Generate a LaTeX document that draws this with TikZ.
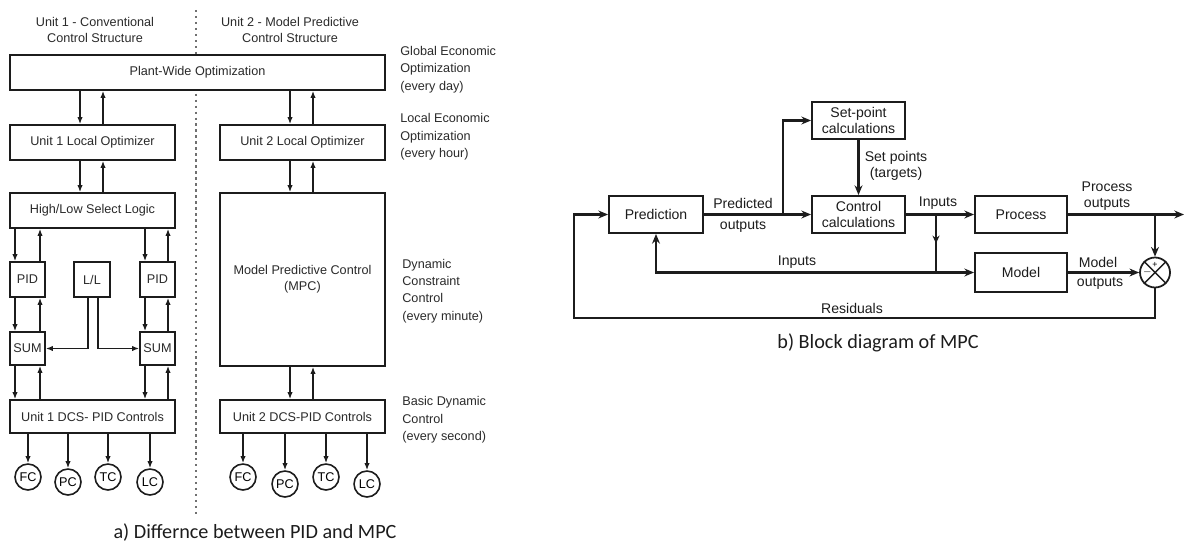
\documentclass[tikz,border=0pt]{standalone}
\usepackage{fontspec}
\setmainfont{Liberation Sans}
\newfontfamily\captionfont{Carlito}
\usetikzlibrary{arrows.meta,calc,positioning,decorations.markings}
\definecolor{InkDark}{HTML}{1C1C1C}
\definecolor{InkSoft}{HTML}{2A2A2A}
\definecolor{DotGrey}{HTML}{707070}
\tikzset{
  blk/.style={rectangle, draw=InkDark, line width=0.9pt, fill=white,
             inner sep=0pt, align=center, text=InkSoft,
             font=\fontsize{7.2}{9}\selectfont},
  blkb/.style={rectangle, draw=InkDark, line width=1.1pt, fill=white,
             inner sep=0pt, align=center, text=InkDark, minimum height=0.74cm,
             font=\fontsize{8}{9.6}\selectfont},
  ctl/.style={circle, draw=InkDark, line width=0.9pt, fill=white,
             minimum size=0.52cm, inner sep=0pt, font=\fontsize{7.2}{8}\selectfont},
  sumnode/.style={circle, draw=InkDark, line width=1pt, fill=white,
             minimum size=0.6cm, inner sep=0pt},
  sig/.style={line width=0.9pt, draw=InkDark, -{Latex[length=4pt,width=3pt]}},
  flow/.style={line width=1.3pt, draw=InkDark, -{Stealth[length=5.5pt,width=4.5pt]}},
  wire/.style={line width=1.3pt, draw=InkDark},
  midarr/.style={postaction={decorate}, decoration={markings,
             mark=at position 0.5 with {\arrow{Stealth[length=4.5pt,width=4pt]}}}},
  tier/.style={font=\fontsize{7.2}{9.9}\selectfont, align=left, anchor=west,
             text=InkSoft, inner sep=0pt},
  head/.style={font=\fontsize{7.2}{8.6}\selectfont, align=center,
             text=InkSoft, inner sep=0pt},
  sigtxt/.style={font=\fontsize{8}{9}\selectfont, align=center, inner sep=0pt,
             text=InkDark},
  capt/.style={font=\captionfont\fontsize{11.5}{13}\selectfont, text=InkDark,
             inner sep=0pt},
}

\begin{document}
\begin{tikzpicture}[x=0.02cm, y=-0.02cm]
\useasboundingbox (0,0) rectangle (1185,544);
\draw[DotGrey, line width=1.1pt, dash pattern=on 1.4pt off 2pt] (196,10) -- (196,515);
\node[head] (t1) at (95,30) {Unit 1 - Conventional\\Control Structure};
\node[head] (t2) at (290,30) {Unit 2 - Model Predictive\\Control Structure};
\node[blk, minimum width=7.5cm, minimum height=0.7cm] (plant) at (197.5,72.5) {Plant-Wide Optimization};
\node[blk, minimum width=3.3cm, minimum height=0.7cm] (lo1) at (92.5,142.5) {Unit 1 Local Optimizer};
\node[blk, minimum width=3.3cm, minimum height=0.7cm] (lo2) at (302.5,142.5) {Unit 2 Local Optimizer};
\node[blk, minimum width=3.3cm, minimum height=0.7cm] (hlsl) at (92.5,210.5) {High/Low Select Logic};
\node[blk, minimum width=3.3cm, minimum height=3.46cm] (mpc) at (302.5,279.5) {Model Predictive Control\\(MPC)};
\node[blk, minimum width=0.7cm, minimum height=0.7cm] (pid1) at (27.5,279.5) {PID};
\node[blk, minimum width=0.72cm, minimum height=0.7cm] (ll) at (92,279.5) {L/L};
\node[blk, minimum width=0.7cm, minimum height=0.7cm] (pid2) at (157.5,279.5) {PID};
\node[blk, minimum width=0.7cm, minimum height=0.66cm] (sum1) at (27.5,348.5) {SUM};
\node[blk, minimum width=0.7cm, minimum height=0.66cm] (sum2) at (157.5,348.5) {SUM};
\node[blk, minimum width=3.3cm, minimum height=0.66cm] (dcs1) at (92.5,416.5) {Unit 1 DCS- PID Controls};
\node[blk, minimum width=3.3cm, minimum height=0.66cm] (dcs2) at (302.5,416.5) {Unit 2 DCS-PID Controls};
\foreach \a/\b/\dn/\up in {plant/lo1/80/103, plant/lo2/290/313, lo1/hlsl/80/103,
    lo2/mpc/290/313, hlsl/pid1/15/40, hlsl/pid2/145/168, pid1/sum1/15/40,
    pid2/sum2/145/168, sum1/dcs1/15/40, sum2/dcs1/145/168, mpc/dcs2/290/313}{
  \draw[sig] (\a.south -| \dn,0) -- (\b.north -| \dn,0);
  \draw[sig] (\b.north -| \up,0) -- (\a.south -| \up,0);
}
\draw[sig] (ll.south -| 88,0) |- (sum1.east);
\draw[sig] (ll.south -| 98,0) |- (sum2.west);
\foreach \n/\t/\x/\y/\u in {fc1/FC/28/477/dcs1, pc1/PC/68/482/dcs1, tc1/TC/108/477/dcs1,
    lc1/LC/150/482/dcs1, fc2/FC/243/477/dcs2, pc2/PC/285/484/dcs2,
    tc2/TC/326/477/dcs2, lc2/LC/367/484/dcs2}{
  \node[ctl] (\n) at (\x,\y) {\t};
  \draw[sig] (\u.south -| \n) -- (\n.north);
}
\node[tier] (tg) at (400,69.5) {Global Economic\\Optimization\\(every day)};
\node[tier] (tl) at (400,137) {Local Economic\\Optimization\\(every hour)};
\node[tier] (td) at (402,291) {Dynamic\\Constraint\\Control\\(every minute)};
\node[tier] (tb) at (402,420) {Basic Dynamic\\Control\\(every second)};
\node[capt] (capa) at (255,533) {a) Differnce between PID and MPC};

\node[blkb, minimum width=1.88cm] (pred) at (656,214.5) {Prediction};
\node[blkb, minimum width=1.86cm] (setp) at (858.5,120.5) {Set-point\\calculations};
\node[blkb, minimum width=1.86cm] (ctrl) at (858.5,214.5) {Control\\calculations};
\node[blkb, minimum width=1.84cm] (proc) at (1021,214.5) {Process};
\node[blkb, minimum width=1.84cm, minimum height=0.78cm] (model) at (1021,272.5) {Model};
\node[sumnode] (sumj) at (1155,272.5) {};
\draw[line width=0.8pt, InkDark] (sumj.north east) -- (sumj.south west)
  (sumj.north west) -- (sumj.south east);
\node[font=\fontsize{5}{5}\selectfont, inner sep=0pt] (plus) at ([yshift=4.3pt]sumj.center) {+};
\node[font=\fontsize{5}{5}\selectfont, inner sep=0pt] (minus) at ([xshift=-4.3pt]sumj.center) {$-$};
\coordinate (tap) at (783,214.5);
\coordinate (jin) at (936,214.5);
\coordinate (jmod) at (936,272.5);
\coordinate (pout) at (1184,214.5);
\coordinate (rleft) at (574,318);
\draw[flow] (pred.east) -- (ctrl.west);
\draw[flow] (tap) |- (setp.west);
\draw[flow] (setp.south) -- (ctrl.north);
\draw[flow] (ctrl.east) -- (proc.west);
\draw[wire, midarr] (jin) -- (jmod);
\draw[flow] (jmod) -- (model.west);
\draw[flow] (jmod) -| (pred.south);
\draw[flow] (proc.east) -- (pout);
\draw[flow] (sumj |- proc.east) -- (sumj.north);
\draw[flow] (model.east) -- (sumj.west);
\draw[flow] (sumj.south) |- (rleft) |- (pred.west);
\node[sigtxt] (lpo1) at (743,203) {Predicted};
\node[sigtxt] (lpo2) at (743,226) {outputs};
\node[sigtxt] (lsp) at (896,166) {Set points\\(targets)};
\node[sigtxt] (lin1) at (938,203) {Inputs};
\node[sigtxt] (lin2) at (797,262) {Inputs};
\node[sigtxt] (lpr) at (1107,196) {Process\\outputs};
\node[sigtxt] (lmo1) at (1098,262) {Model};
\node[sigtxt] (lmo2) at (1100,283) {outputs};
\node[sigtxt] (lres) at (852,308) {Residuals};
\node[capt] (capb) at (878,343) {b) Block diagram of MPC};
\end{tikzpicture}
\end{document}
